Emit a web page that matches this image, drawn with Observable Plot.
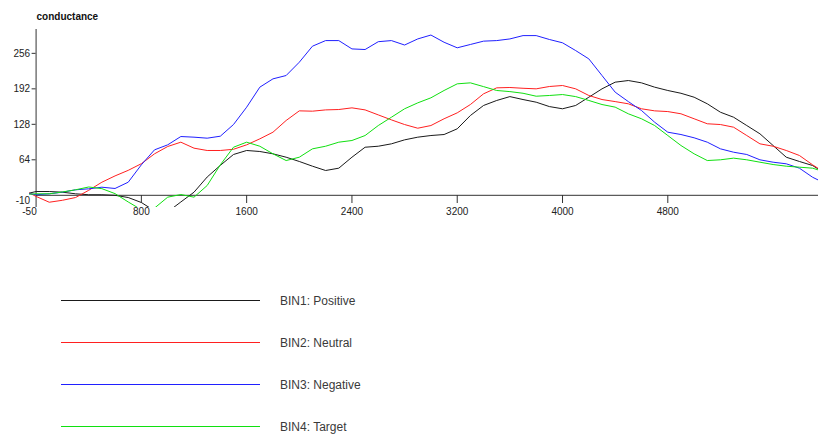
<!DOCTYPE html>
<html>
<head>
<meta charset="utf-8">
<script src="https://cdn.jsdelivr.net/npm/d3@7"></script>
<script src="https://cdn.jsdelivr.net/npm/@observablehq/plot@0.6"></script>
<style>
  body { margin: 0; background: #fff; font-family: "Liberation Sans", Arial, sans-serif; }
  #wrap { position: relative; width: 818px; height: 435px; }
  .leg-line { position: absolute; left: 61px; width: 199px; height: 0; border-top: 1px solid; }
  .leg-text { position: absolute; left: 280px; font-size: 12px; color: #3a3a3a; line-height: 16px; }
</style>
</head>
<body>
<div id="wrap"></div>
<script>
"use strict";

// Time grid (ms) shared by all four bins
const times = [-50, 0, 100, 200, 300, 400, 500, 600, 700, 800, 900, 1000, 1100, 1200, 1300,
  1400, 1500, 1600, 1700, 1800, 1900, 2000, 2100, 2200, 2300, 2400, 2500, 2600, 2700, 2800,
  2900, 3000, 3100, 3200, 3300, 3400, 3500, 3600, 3700, 3800, 3900, 4000, 4100, 4200, 4300,
  4400, 4500, 4600, 4700, 4800, 4900, 5000, 5100, 5200, 5300, 5400, 5500, 5600, 5700, 5800,
  5900, 5940];

const bin1 = [4, 6.8, 6.8, 5.6, 2.7, 1, 1, 0, -4, -13, -28, -30, -12, 5.6, 33,
  54, 73.6, 80.8, 79, 74.8, 68.7, 61, 52.5, 44.7, 48.9, 68.7, 86.7, 88.5, 92.8, 100,
  104.8, 107.8, 109.6, 119.9, 143.9, 162, 171, 178, 172.7, 167.9, 160, 156, 162, 176.9, 192,
  204, 207, 202.8, 195, 189, 184, 176.9, 165, 149.8, 140.8, 125.8, 110.9, 89.8, 68.7, 61,
  53.7, 47.8];

const bin2 = [4, -2, -12.5, -9, -4, 9, 23.6, 35, 45, 57, 74.8, 88, 95.8, 85, 80.8,
  80.8, 83, 91, 101.8, 113.8, 134.9, 152.3, 151.7, 154, 154.7, 157.7, 154, 145, 136, 127.6,
  121, 125.8, 138, 148.7, 163.7, 183, 193.8, 194.4, 193, 192, 196.2, 198, 192, 180, 172.7,
  169, 165, 156, 152.3, 151, 147, 138, 129, 127.6, 122.8, 107.8, 92.8, 88.5, 80.8, 71.8,
  55, 48.9];

const bin3 = [3, 1, 2.7, 5.6, 9.9, 11.7, 14.6, 12.3, 23.6, 55, 82, 91, 106, 104.8, 103,
  106.6, 127.6, 158.9, 195, 210, 216, 240, 268.9, 279, 279, 264, 262.9, 277, 279, 271,
  282, 289, 276, 266, 272, 278, 279, 282, 288, 288, 281, 275, 261, 246, 216,
  186, 169, 152.9, 131.8, 113.8, 109.6, 103.7, 95.8, 83.8, 77.7, 73.6, 64, 59.7, 56.8, 48.9,
  32.6, 27.9];

const bin4 = [2, 2.7, 2.7, 6, 9.9, 15, 12, 3, -12, -26, -23, -3.4, 1.4, -3.4, 17.7,
  55, 86.7, 95.8, 88.5, 74.8, 62.7, 68.7, 83.8, 88.5, 95.8, 98.8, 107.8, 125.8, 140.8, 156,
  166.7, 175.8, 189, 201, 202.8, 196, 189, 187, 184, 178.7, 180, 181.7, 178, 171, 163.7,
  159, 147, 138, 125.8, 107.8, 89.8, 74.8, 62.7, 64, 67, 64, 59.7, 55.5, 52.5, 50.7,
  48.9, 46];

const binNames = ["BIN1: Positive", "BIN2: Neutral", "BIN3: Negative", "BIN4: Target"];
const binColors = ["#1a1a1a", "#ff2020", "#2020ff", "#10e010"];
const binValues = [bin1, bin2, bin3, bin4];

const xTicks = [800, 1600, 2400, 3200, 4000, 4800];
const yTicks = [64, 128, 192, 256];
const xDomain = [-50, 5945];
const yDomain = [-22, 299];

const rows = [];
binValues.forEach(function (vals, i) {
  vals.forEach(function (v, j) {
    rows.push({ t: times[j], v: v, bin: binNames[i] });
  });
});

const fmt = function (d) { return String(d); };
const axisColor = "#333";

const chart = Plot.plot({
  width: 818,
  height: 222,
  marginLeft: 29,
  marginRight: 0,
  marginTop: 29,
  marginBottom: 15,
  style: {
    background: "transparent",
    color: "#222",
    fontFamily: '"Liberation Sans", Arial, sans-serif',
    fontSize: "10px",
    overflow: "visible",
  },
  x: { domain: xDomain },
  y: { domain: yDomain },
  color: { domain: binNames, range: binColors },
  marks: [
    // axes sit on zero, not on the frame edge
    Plot.ruleY([0], { x1: 0, x2: xDomain[1], stroke: axisColor }),
    Plot.ruleX([0], { stroke: axisColor }),

    Plot.line(rows, {
      x: "t",
      y: "v",
      z: "bin",
      stroke: "bin",
      strokeWidth: 1,
      clip: true,
    }),

    Plot.axisX({ ticks: xTicks, tickSize: 8, tickPadding: 4, dy: -12, tickFormat: fmt,
      label: null, stroke: axisColor, fill: "#222" }),
    Plot.axisX({ ticks: [xDomain[0]], tickSize: 0, tickPadding: 12, dy: -12, tickFormat: fmt,
      label: null, fill: "#222" }),
    Plot.axisY({ ticks: yTicks, tickSize: 4, tickPadding: 2, dx: 6.6, tickFormat: fmt,
      label: null, stroke: axisColor, fill: "#222" }),
    Plot.axisY({ ticks: [-10], tickSize: 0, tickPadding: 6, dx: 6.6, tickFormat: fmt,
      label: null, fill: "#222" }),

    Plot.text(["conductance"], {
      frameAnchor: "top-left",
      lineAnchor: "middle",
      dx: 7,
      dy: -13,
      textAnchor: "start",
      fontWeight: 700,
      fontSize: 10,
      fill: "#111",
    }),
  ],
});

const wrap = document.getElementById("wrap");
wrap.appendChild(chart);

// Legend below the chart: one long sample line per bin
binNames.forEach(function (name, i) {
  const top = 300 + 42 * i;
  const line = document.createElement("div");
  line.className = "leg-line";
  line.style.top = top + "px";
  line.style.borderColor = binColors[i];
  wrap.appendChild(line);
  const label = document.createElement("div");
  label.className = "leg-text";
  label.style.top = (top - 7) + "px";
  label.textContent = name;
  wrap.appendChild(label);
});
</script>
</body>
</html>
